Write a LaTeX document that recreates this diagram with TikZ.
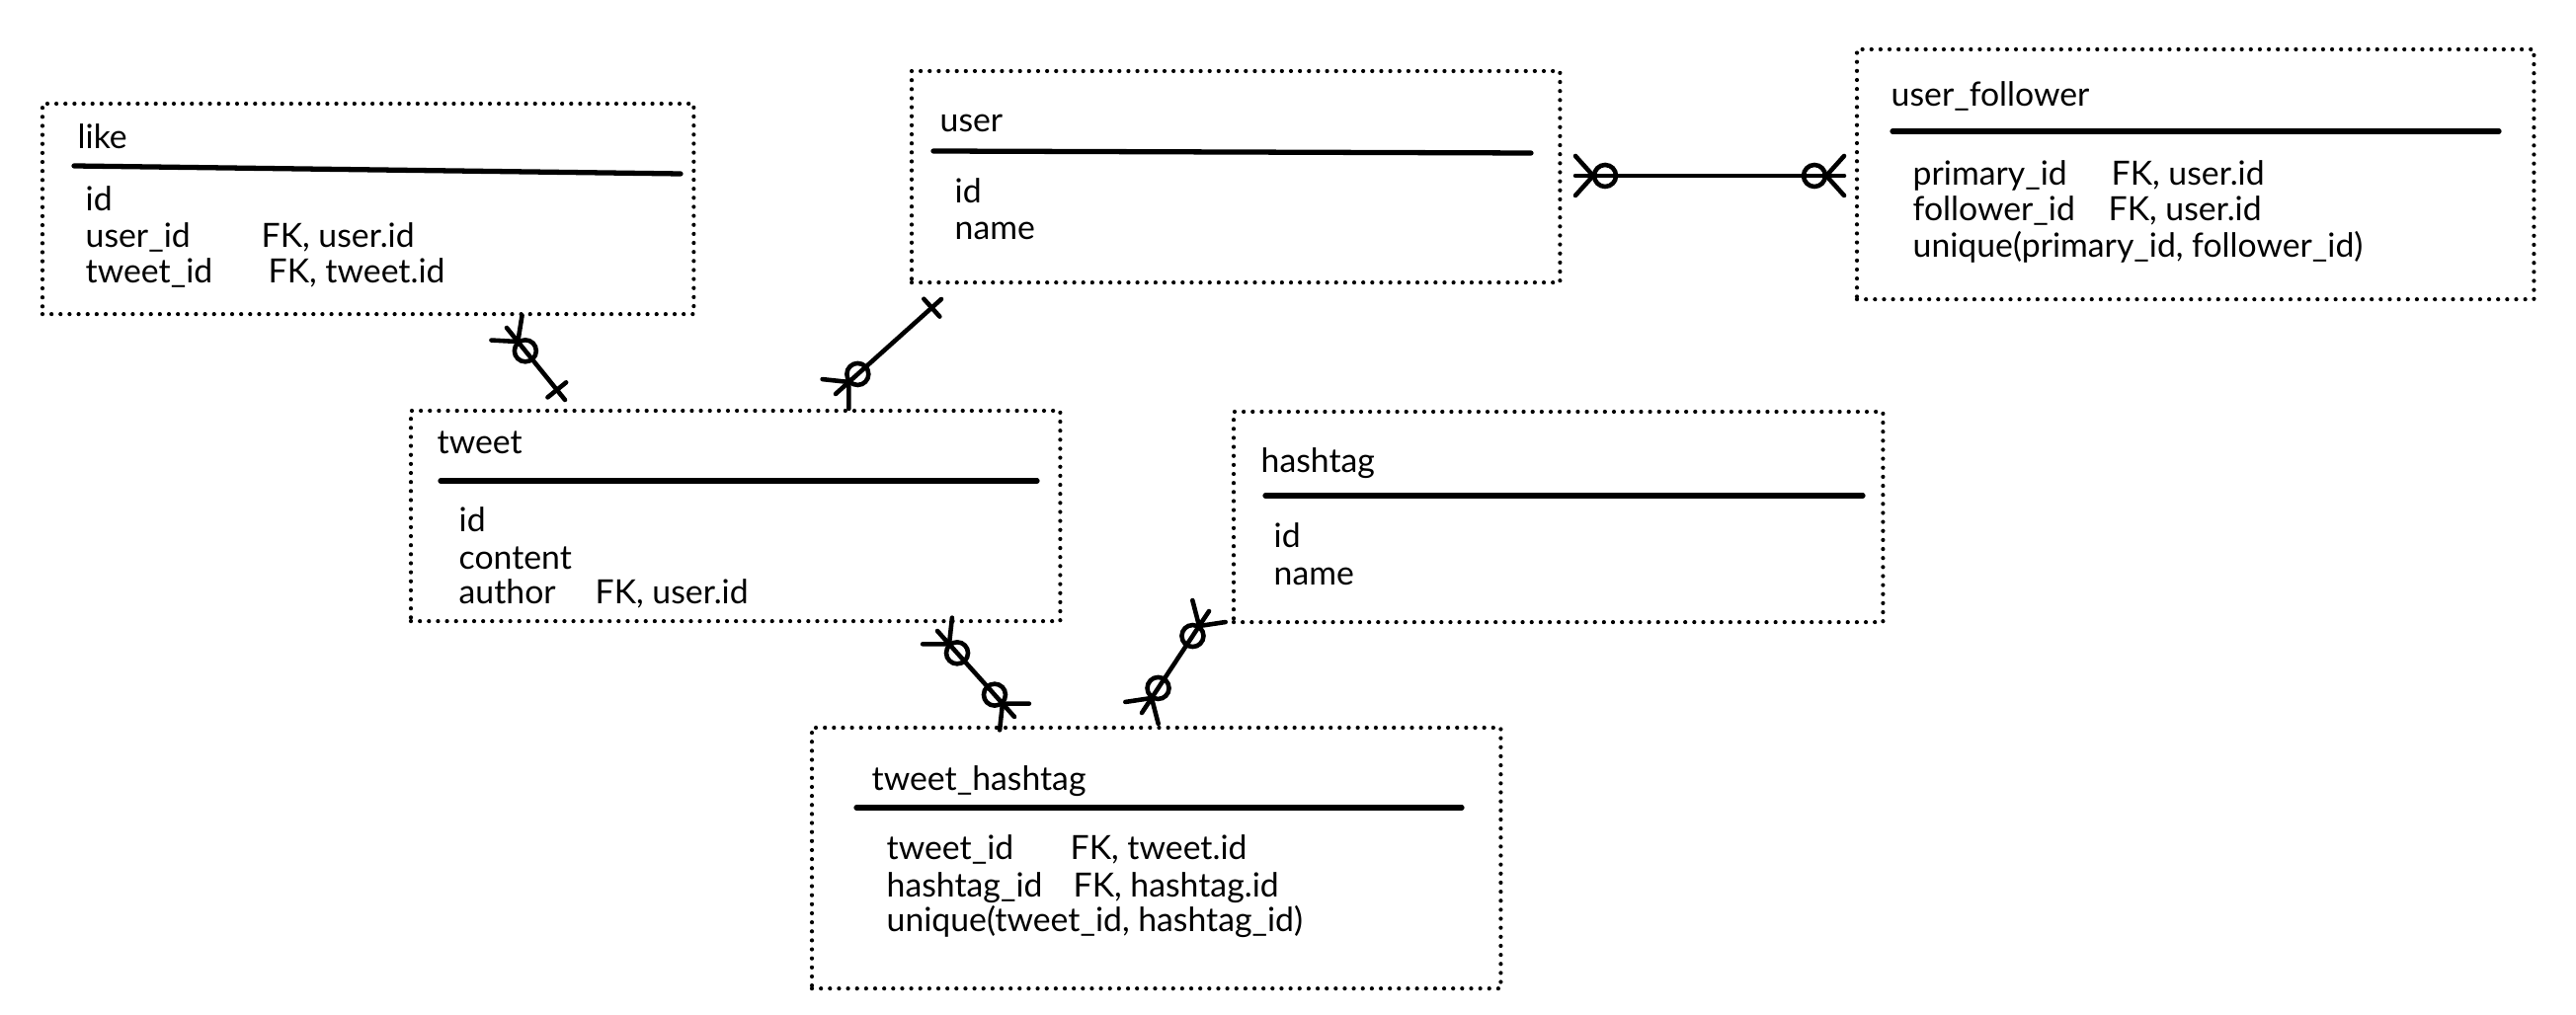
\documentclass[tikz,border=0pt]{standalone}
\usepackage{fontspec}
\setmainfont{Lato}
\usetikzlibrary{calc}
\tikzset{
  tbl/.style={draw, line width=1.2pt, dash pattern=on 0pt off 2.6pt, line cap=round, anchor=north west, inner sep=0pt, outer sep=0pt},
  hdr/.style={line width=1.5pt, line cap=round},
  conn/.style={line width=1.3pt, line cap=round},
  txt/.style={anchor=base west, inner sep=0pt, yshift=-0.03cm, font=\fontsize{9.6}{12}\selectfont},
}
\newcommand{\ermany}[2]{%
  \coordinate (zmC) at ($(#1)!0.18cm!(#2)$);
  \draw[conn] ($(#1)!0.2cm!90:(#2)$) -- (zmC) -- ($(#1)!0.2cm!-90:(#2)$);
  \draw[conn] ($(#1)!0.3cm!(#2)$) circle[radius=0.11cm];
}
\newcommand{\erone}[2]{%
  \coordinate (obC) at ($(#1)!0.13cm!(#2)$);
  \draw[conn] ($(obC)!0.12cm!90:(#2)$) -- ($(obC)!0.12cm!-90:(#2)$);
}
\begin{document}
\begin{tikzpicture}[x=0.01cm, y=-0.01cm]
\fill[white] (0,0) rectangle (2608,1028);
\useasboundingbox (0,0) rectangle (2608,1028);

% tables
\node[tbl, minimum width=6.59cm, minimum height=2.13cm] (like) at (43,105) {};
\node[tbl, minimum width=6.56cm, minimum height=2.14cm] (user) at (923,72) {};
\node[tbl, minimum width=6.85cm, minimum height=2.53cm] (uf) at (1880,50) {};
\node[tbl, minimum width=6.57cm, minimum height=2.13cm] (tweet) at (416,416) {};
\node[tbl, minimum width=6.57cm, minimum height=2.13cm] (hashtag) at (1249,417) {};
\node[tbl, minimum width=6.97cm, minimum height=2.64cm] (th) at (822,737) {};

% like
\node[txt] (like-t) at (78,148) {like};
\draw[hdr] (75,168) -- (689,176);
\node[txt] (like-r1) at (86,211) {id};
\node[txt] (like-r2) at (86,248) {user\_id};
\node[txt] (like-r2b) at (264,248) {FK, user.id};
\node[txt] (like-r3) at (86,284) {tweet\_id};
\node[txt] (like-r3b) at (271,284) {FK, tweet.id};

% user
\node[txt] (user-t) at (951,131) {user};
\draw[hdr] (945,153) -- (1550,155);
\node[txt] (user-r1) at (966,203) {id};
\node[txt] (user-r2) at (966,240) {name};

% user_follower
\node[txt] (uf-t) at (1914,105) {user\_follower};
\draw[hdr] (1916,133) -- (2530,133);
\node[txt] (uf-r1) at (1936,185) {primary\_id};
\node[txt] (uf-r1b) at (2137,185) {FK, user.id};
\node[txt] (uf-r2) at (1936,221) {follower\_id};
\node[txt] (uf-r2b) at (2134,221) {FK, user.id};
\node[txt] (uf-r3) at (1936,258) {unique(primary\_id, follower\_id)};

% tweet
\node[txt] (tweet-t) at (442,457) {tweet};
\draw[hdr] (446,487) -- (1050,487);
\node[txt] (tweet-r1) at (464,536) {id};
\node[txt] (tweet-r2) at (464,574) {content};
\node[txt] (tweet-r3) at (464,609) {author};
\node[txt] (tweet-r3b) at (602,609) {FK, user.id};

% hashtag
\node[txt] (hashtag-t) at (1276,476) {hashtag};
\draw[hdr] (1281,502) -- (1886,502);
\node[txt] (hashtag-r1) at (1289,552) {id};
\node[txt] (hashtag-r2) at (1289,590) {name};

% tweet_hashtag
\node[txt] (th-t) at (882,798) {tweet\_hashtag};
\draw[hdr] (867,818) -- (1480,818);
\node[txt] (th-r1) at (897,868) {tweet\_id};
\node[txt] (th-r1b) at (1083,868) {FK, tweet.id};
\node[txt] (th-r2) at (897,905) {hashtag\_id};
\node[txt] (th-r2b) at (1086,905) {FK, hashtag.id};
\node[txt] (th-r3) at (897,941) {unique(tweet\_id, hashtag\_id)};

% connector end points
\coordinate (c1a) at (513,332);
\coordinate (c1b) at (572,405);
\coordinate (c2a) at (953,303);
\coordinate (c2b) at (846,399);
\coordinate (c3a) at (1595,178);
\coordinate (c3b) at (1867,178);
\coordinate (c4a) at (949,639);
\coordinate (c4b) at (1027,726);
\coordinate (c5a) at (1224,619);
\coordinate (c5b) at (1156,722);

% connectors
\draw[conn] (c1a) -- (c1b);
\ermany{c1a}{c1b}
\erone{c1b}{c1a}

\draw[conn] (c2a) -- (c2b);
\erone{c2a}{c2b}
\ermany{c2b}{c2a}

\draw[conn] (c3a) -- (c3b);
\ermany{c3a}{c3b}
\ermany{c3b}{c3a}

\draw[conn] (c4a) -- (c4b);
\ermany{c4a}{c4b}
\ermany{c4b}{c4a}

\draw[conn] (c5a) -- (c5b);
\ermany{c5a}{c5b}
\ermany{c5b}{c5a}
\end{tikzpicture}
\end{document}
